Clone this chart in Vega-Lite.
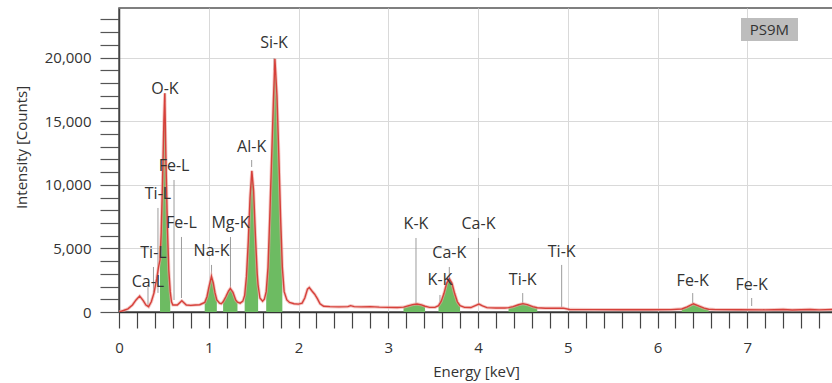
{
  "$schema": "https://vega.github.io/schema/vega-lite/v6.json",
  "width": 714,
  "height": 304,
  "autosize": {"type": "none"},
  "padding": {"left": 119, "top": 8, "right": 0, "bottom": 71},
  "background": "white",
  "config": {
    "view": {"stroke": "#555555", "strokeWidth": 1.5},
    "font": "Open Sans"
  },
  "resolve": {"axis": {"x": "independent", "y": "independent"}},
  "datasets": {
    "spectrum": [
      {"e": 0.0, "c": 0}, {"e": 0.05, "c": 120}, {"e": 0.1, "c": 250}, {"e": 0.15, "c": 550},
      {"e": 0.19, "c": 950}, {"e": 0.23, "c": 1250}, {"e": 0.27, "c": 900}, {"e": 0.3, "c": 550},
      {"e": 0.33, "c": 420}, {"e": 0.36, "c": 800}, {"e": 0.39, "c": 1500}, {"e": 0.42, "c": 2600},
      {"e": 0.44, "c": 3500},
      {"e": 0.457, "c": 4100, "g": "O"}, {"e": 0.47, "c": 6200, "g": "O"}, {"e": 0.485, "c": 10300, "g": "O"},
      {"e": 0.5, "c": 15000, "g": "O"}, {"e": 0.51, "c": 17200, "g": "O"}, {"e": 0.523, "c": 12000, "g": "O"},
      {"e": 0.54, "c": 6500, "g": "O"}, {"e": 0.555, "c": 3300, "g": "O"}, {"e": 0.571, "c": 1600, "g": "O"},
      {"e": 0.585, "c": 800}, {"e": 0.6, "c": 550}, {"e": 0.65, "c": 550}, {"e": 0.68, "c": 750},
      {"e": 0.7, "c": 880}, {"e": 0.72, "c": 750}, {"e": 0.75, "c": 550}, {"e": 0.8, "c": 520},
      {"e": 0.85, "c": 550}, {"e": 0.9, "c": 570},
      {"e": 0.955, "c": 750, "g": "Na"}, {"e": 0.98, "c": 1200, "g": "Na"}, {"e": 1.0, "c": 1900, "g": "Na"},
      {"e": 1.03, "c": 2800, "g": "Na"}, {"e": 1.05, "c": 2300, "g": "Na"}, {"e": 1.07, "c": 1500, "g": "Na"},
      {"e": 1.09, "c": 950, "g": "Na"},
      {"e": 1.12, "c": 700}, {"e": 1.14, "c": 650},
      {"e": 1.16, "c": 800, "g": "Mg"}, {"e": 1.19, "c": 1200, "g": "Mg"}, {"e": 1.22, "c": 1650, "g": "Mg"},
      {"e": 1.24, "c": 1850, "g": "Mg"}, {"e": 1.27, "c": 1550, "g": "Mg"}, {"e": 1.3, "c": 950, "g": "Mg"},
      {"e": 1.32, "c": 780, "g": "Mg"},
      {"e": 1.35, "c": 700}, {"e": 1.38, "c": 850},
      {"e": 1.4, "c": 1300, "g": "Al"}, {"e": 1.42, "c": 2800, "g": "Al"}, {"e": 1.44, "c": 5500, "g": "Al"},
      {"e": 1.46, "c": 9000, "g": "Al"}, {"e": 1.48, "c": 11100, "g": "Al"}, {"e": 1.5, "c": 9500, "g": "Al"},
      {"e": 1.52, "c": 6000, "g": "Al"}, {"e": 1.54, "c": 3000, "g": "Al"}, {"e": 1.55, "c": 2100, "g": "Al"},
      {"e": 1.57, "c": 1100}, {"e": 1.6, "c": 850}, {"e": 1.62, "c": 1000},
      {"e": 1.64, "c": 1600, "g": "Si"}, {"e": 1.66, "c": 3500, "g": "Si"}, {"e": 1.68, "c": 7500, "g": "Si"},
      {"e": 1.7, "c": 12000, "g": "Si"}, {"e": 1.72, "c": 16500, "g": "Si"}, {"e": 1.737, "c": 19900, "g": "Si"},
      {"e": 1.76, "c": 17000, "g": "Si"}, {"e": 1.78, "c": 12500, "g": "Si"}, {"e": 1.8, "c": 7500, "g": "Si"},
      {"e": 1.82, "c": 3500, "g": "Si"},
      {"e": 1.84, "c": 1600}, {"e": 1.87, "c": 950}, {"e": 1.9, "c": 750}, {"e": 1.95, "c": 650},
      {"e": 2.0, "c": 620}, {"e": 2.04, "c": 700}, {"e": 2.07, "c": 1100}, {"e": 2.1, "c": 1800},
      {"e": 2.12, "c": 1920}, {"e": 2.15, "c": 1650}, {"e": 2.18, "c": 1400}, {"e": 2.21, "c": 1050},
      {"e": 2.24, "c": 650}, {"e": 2.28, "c": 450}, {"e": 2.35, "c": 420}, {"e": 2.45, "c": 400},
      {"e": 2.55, "c": 420}, {"e": 2.58, "c": 500}, {"e": 2.62, "c": 420}, {"e": 2.7, "c": 400},
      {"e": 2.8, "c": 420}, {"e": 2.9, "c": 380}, {"e": 3.0, "c": 360}, {"e": 3.1, "c": 350},
      {"e": 3.17, "c": 380, "g": "K"}, {"e": 3.22, "c": 480, "g": "K"}, {"e": 3.27, "c": 580, "g": "K"},
      {"e": 3.32, "c": 630, "g": "K"}, {"e": 3.37, "c": 560, "g": "K"}, {"e": 3.41, "c": 450, "g": "K"},
      {"e": 3.46, "c": 360}, {"e": 3.52, "c": 360},
      {"e": 3.56, "c": 500, "g": "Ca"}, {"e": 3.59, "c": 850, "g": "Ca"}, {"e": 3.62, "c": 1450, "g": "Ca"},
      {"e": 3.65, "c": 2250, "g": "Ca"}, {"e": 3.68, "c": 2620, "g": "Ca"}, {"e": 3.71, "c": 2250, "g": "Ca"},
      {"e": 3.74, "c": 1450, "g": "Ca"}, {"e": 3.77, "c": 800, "g": "Ca"}, {"e": 3.8, "c": 500, "g": "Ca"},
      {"e": 3.85, "c": 360}, {"e": 3.92, "c": 350}, {"e": 3.97, "c": 500}, {"e": 4.01, "c": 620},
      {"e": 4.05, "c": 480}, {"e": 4.1, "c": 340}, {"e": 4.2, "c": 320}, {"e": 4.3, "c": 320},
      {"e": 4.34, "c": 340, "g": "Ti"}, {"e": 4.39, "c": 420, "g": "Ti"}, {"e": 4.45, "c": 570, "g": "Ti"},
      {"e": 4.5, "c": 660, "g": "Ti"}, {"e": 4.55, "c": 580, "g": "Ti"}, {"e": 4.61, "c": 420, "g": "Ti"},
      {"e": 4.66, "c": 330, "g": "Ti"},
      {"e": 4.75, "c": 300}, {"e": 4.85, "c": 300}, {"e": 4.95, "c": 300}, {"e": 5.02, "c": 200},
      {"e": 5.3, "c": 190}, {"e": 5.6, "c": 180}, {"e": 5.9, "c": 180}, {"e": 6.15, "c": 190},
      {"e": 6.27, "c": 240, "g": "Fe"}, {"e": 6.33, "c": 400, "g": "Fe"}, {"e": 6.4, "c": 650, "g": "Fe"},
      {"e": 6.47, "c": 450, "g": "Fe"}, {"e": 6.52, "c": 300, "g": "Fe"}, {"e": 6.57, "c": 220, "g": "Fe"},
      {"e": 6.65, "c": 190}, {"e": 6.9, "c": 180}, {"e": 7.2, "c": 170}, {"e": 7.4, "c": 200},
      {"e": 7.5, "c": 160}, {"e": 7.7, "c": 200}, {"e": 7.8, "c": 170}, {"e": 7.96, "c": 200}
    ],
    "labels": [
      {"label": "Si-K", "e": 1.727, "ty": 21150, "lo": 19000, "hi": 19950},
      {"label": "O-K", "e": 0.512, "ty": 17530, "lo": 16500, "hi": 17200},
      {"label": "Al-K", "e": 1.478, "ty": 12970, "lo": 11400, "hi": 11950},
      {"label": "Fe-L", "e": 0.613, "ty": 11480, "lo": 940, "hi": 10380},
      {"label": "Ti-L", "e": 0.434, "ty": 9280, "lo": 1500, "hi": 8180},
      {"label": "Fe-L", "e": 0.696, "ty": 7000, "lo": 1100, "hi": 5900},
      {"label": "Mg-K", "e": 1.242, "ty": 7000, "lo": 1900, "hi": 5900},
      {"label": "Na-K", "e": 1.031, "ty": 4800, "lo": 2900, "hi": 3700},
      {"label": "Ti-L", "e": 0.384, "ty": 4640, "lo": 1500, "hi": 3540},
      {"label": "Ca-L", "e": 0.323, "ty": 2360, "lo": 450, "hi": 1950},
      {"label": "K-K", "e": 3.309, "ty": 6920, "lo": 550, "hi": 5820},
      {"label": "Ca-K", "e": 4.005, "ty": 6920, "lo": 650, "hi": 5820},
      {"label": "Ca-K", "e": 3.68, "ty": 4640, "lo": 2700, "hi": 3540},
      {"label": "K-K", "e": 3.576, "ty": 2520, "lo": 790, "hi": 1340},
      {"label": "Ti-K", "e": 4.932, "ty": 4720, "lo": 390, "hi": 3700},
      {"label": "Ti-K", "e": 4.498, "ty": 2520, "lo": 700, "hi": 1490},
      {"label": "Fe-K", "e": 6.392, "ty": 2440, "lo": 700, "hi": 1490},
      {"label": "Fe-K", "e": 7.049, "ty": 2120, "lo": 470, "hi": 1100}
    ]
  },
  "layer": [
    {
      "data": {"name": "labels"},
      "mark": {"type": "rule", "color": "#9c9c9c", "strokeWidth": 1},
      "encoding": {
        "x": {
          "field": "e", "type": "quantitative",
          "scale": {"domain": [0, 7.955], "nice": false, "zero": false},
          "axis": {
            "values": [0,0.2,0.4,0.6,0.8,1,1.2,1.4,1.6,1.8,2,2.2,2.4,2.6,2.8,3,3.2,3.4,3.6,3.8,4,4.2,4.4,4.6,4.8,5,5.2,5.4,5.6,5.8,6,6.2,6.4,6.6,6.8,7,7.2,7.4,7.6,7.8],
            "format": ".1f",
            "labelExpr": "abs(datum.value - round(datum.value)) < 0.01 ? format(datum.value, 'd') : ''",
            "labelOverlap": false,
            "labelFlush": false,
            "labelFontSize": 15,
            "labelColor": "#333333",
            "labelBaseline": "middle",
            "labelPadding": 19,
            "tickSize": 16,
            "tickColor": "#444444",
            "tickWidth": 1.2,
            "encode": {"ticks": {"update": {"y2": {"signal": "abs(datum.value - round(datum.value)) < 0.01 ? 16 : 7"}}}},
            "domainColor": "#333333",
            "domainWidth": 1.5,
            "grid": true,
            "gridColor": "#d9d9d9",
            "gridWidth": 1,
            "gridOpacity": {"condition": {"test": "abs(datum.value - round(datum.value)) < 0.01", "value": 1}, "value": 0},
            "title": "Energy [keV]",
            "titleFontSize": 15,
            "titleFontWeight": "normal",
            "titleColor": "#333333",
            "titleBaseline": "middle",
            "titleY": 59
          }
        },
        "y": {
          "field": "lo", "type": "quantitative",
          "scale": {"domain": [0, 23900], "nice": false},
          "axis": {
            "values": [0,1000,2000,3000,4000,5000,6000,7000,8000,9000,10000,11000,12000,13000,14000,15000,16000,17000,18000,19000,20000,21000,22000,23000],
            "format": ",.0f",
            "labelExpr": "datum.value % 5000 === 0 ? format(datum.value, ',.0f') : ''",
            "labelOverlap": false,
            "labelFlush": false,
            "labelFontSize": 15,
            "labelColor": "#333333",
            "labelPadding": 9,
            "tickSize": 19,
            "tickColor": "#555555",
            "tickWidth": 1.2,
            "encode": {"ticks": {"update": {"x2": {"signal": "datum.value % 5000 === 0 ? -19 : -7"}}}},
            "domainColor": "#444444",
            "domainWidth": 1.5,
            "grid": true,
            "gridColor": "#d9d9d9",
            "gridWidth": 1,
            "gridOpacity": {"condition": {"test": "datum.value % 5000 === 0", "value": 1}, "value": 0},
            "title": "Intensity [Counts]",
            "titleFontSize": 15,
            "titleFontWeight": "normal",
            "titleColor": "#333333",
            "titleAngle": -90,
            "titleAlign": "center",
            "titleBaseline": "middle",
            "titleX": -98,
            "titleY": 139
          }
        },
        "y2": {"field": "hi"}
      }
    },
    {
      "data": {"name": "spectrum"},
      "transform": [{"filter": "datum.g"}],
      "mark": {"type": "area", "color": "#6dbb62", "opacity": 1, "clip": true},
      "encoding": {
        "x": {"field": "e", "type": "quantitative", "axis": null},
        "y": {"field": "c", "type": "quantitative", "axis": null, "stack": null},
        "detail": {"field": "g"}
      }
    },
    {
      "data": {"name": "spectrum"},
      "mark": {"type": "line", "color": "#eca39e", "strokeWidth": 3.2, "opacity": 0.6, "clip": true},
      "encoding": {
        "x": {"field": "e", "type": "quantitative", "axis": null},
        "y": {"field": "c", "type": "quantitative", "axis": null}
      }
    },
    {
      "data": {"name": "spectrum"},
      "mark": {"type": "line", "color": "#d6403a", "strokeWidth": 1.4, "clip": true},
      "encoding": {
        "x": {"field": "e", "type": "quantitative", "axis": null},
        "y": {"field": "c", "type": "quantitative", "axis": null}
      }
    },
    {
      "data": {"name": "labels"},
      "mark": {"type": "text", "fontSize": 16, "color": "#333333", "align": "center", "baseline": "middle", "font": "Open Sans"},
      "encoding": {
        "x": {"field": "e", "type": "quantitative", "axis": null},
        "y": {"field": "ty", "type": "quantitative", "axis": null},
        "text": {"field": "label"}
      }
    },
    {
      "data": {"values": [{"tag": "PS9M"}]},
      "mark": {"type": "rect", "color": "#bdbdbd"},
      "encoding": {
        "x": {"datum": 6.93, "type": "quantitative", "axis": null},
        "x2": {"datum": 7.565},
        "y": {"datum": 23110, "type": "quantitative", "axis": null},
        "y2": {"datum": 21300}
      }
    },
    {
      "data": {"values": [{"tag": "PS9M"}]},
      "mark": {"type": "text", "fontSize": 15, "color": "#333333", "align": "center", "baseline": "middle", "font": "Open Sans"},
      "encoding": {
        "x": {"datum": 7.247, "type": "quantitative", "axis": null},
        "y": {"datum": 22200, "type": "quantitative", "axis": null},
        "text": {"field": "tag"}
      }
    }
  ]
}
